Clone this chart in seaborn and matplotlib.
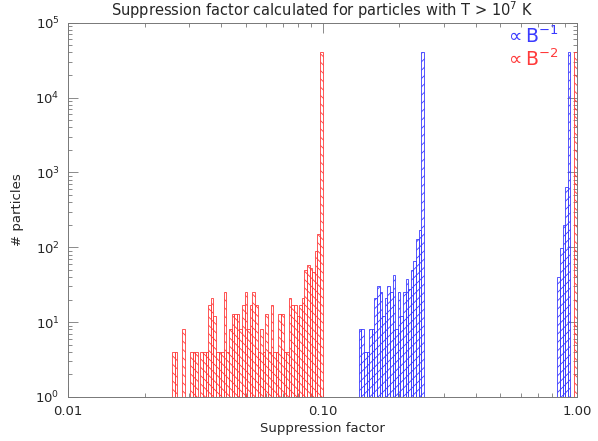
import matplotlib
matplotlib.use("Agg")
import matplotlib.pyplot as plt
import matplotlib.ticker as mticker
import numpy as np
import pandas as pd
import seaborn as sns

# histogram counts; bins are equal in log10, first edge given in log10
bin_width = 0.0102

red_start = -1.5916
red_counts = [4, 4, 0, 0, 8, 0, 0, 4, 4, 4, 0, 4, 4, 4, 17, 21, 12, 4, 4, 4,
              25, 4, 8,
              13, 13, 13, 8, 17, 25, 8, 17, 25, 17, 4, 8, 4, 13, 4, 17, 4, 4,
              13, 13, 4, 4, 21, 17, 17, 12, 17, 21, 50, 58, 53, 47, 89, 150,
              40000]

blue_start = -0.857
blue_counts = [8, 8, 4, 4, 8, 8, 21, 30, 25, 12, 21, 30, 25, 42, 8, 25, 12,
               25, 38, 28, 50, 66, 128, 170, 40000]

# values piled up just below 1
blue_top_start = -0.077
blue_top_counts = [40, 98, 197, 636, 40000]

red_top_start = -0.0102
red_top_counts = [40000]


def make_df(start, counts):
    n = len(counts)
    edges = 10 ** (start + bin_width * np.arange(n + 1))
    centers = np.sqrt(edges[:-1] * edges[1:])
    return pd.DataFrame({"x": np.repeat(centers, counts)}), list(edges)


sns.set_style("ticks")
plt.rcParams["font.family"] = ["DejaVu Sans"]
plt.rcParams["hatch.linewidth"] = 0.6

fig = plt.figure(figsize=(5.98, 4.41), dpi=100)
ax = fig.add_axes([0.1137, 0.0998, 0.8512, 0.8488])

blue = "#3a3aff"
red = "#ff3a3a"
series = [
    (blue_start, blue_counts, blue, "////"),
    (blue_top_start, blue_top_counts, blue, "////"),
    (red_start, red_counts, red, "\\\\\\\\"),
    (red_top_start, red_top_counts, red, "\\\\\\\\"),
]
for start, counts, col, hatch in series:
    df, edges = make_df(start, counts)
    sns.histplot(data=df, x="x", bins=edges, fill=False,
                 element="bars", color=col, edgecolor=col, linewidth=0.6,
                 hatch=hatch, ax=ax)

ax.set_xscale("log")
ax.set_yscale("log")
ax.set_xlim(0.01, 1.0)
ax.set_ylim(1, 1e5)
ax.xaxis.set_major_locator(mticker.FixedLocator([0.01, 0.1, 1.0]))
ax.xaxis.set_major_formatter(mticker.FixedFormatter(["0.01", "0.10", "1.00"]))
ax.xaxis.set_minor_locator(mticker.LogLocator(subs=np.arange(2, 10)))
ax.xaxis.set_minor_formatter(mticker.NullFormatter())
ax.yaxis.set_major_locator(mticker.LogLocator(base=10, numticks=10))
ax.yaxis.set_minor_locator(mticker.LogLocator(subs=np.arange(2, 10), numticks=10))
ax.yaxis.set_minor_formatter(mticker.NullFormatter())

ax.tick_params(which="both", direction="in", top=True, right=True,
               color="#777777", labelsize=9.5, width=0.6)
ax.tick_params(which="major", length=7, pad=6)
ax.tick_params(which="minor", length=3.2)
for sp in ax.spines.values():
    sp.set_color("#777777")
    sp.set_linewidth(0.7)

ax.set_xlabel("Suppression factor", fontsize=9.5, labelpad=3)
ax.set_ylabel("# particles", fontsize=9.5, labelpad=8)
ax.set_title(r"Suppression factor calculated for particles with T > 10$^7$ K",
             fontsize=10.5, pad=5)

fig.text(0.934, 0.918, r"$\propto$B$^{-1}$", color=blue, fontsize=13.5,
         ha="right", va="center")
fig.text(0.934, 0.866, r"$\propto$B$^{-2}$", color=red, fontsize=13.5,
         ha="right", va="center")

fig.savefig("out.png", dpi=100)
